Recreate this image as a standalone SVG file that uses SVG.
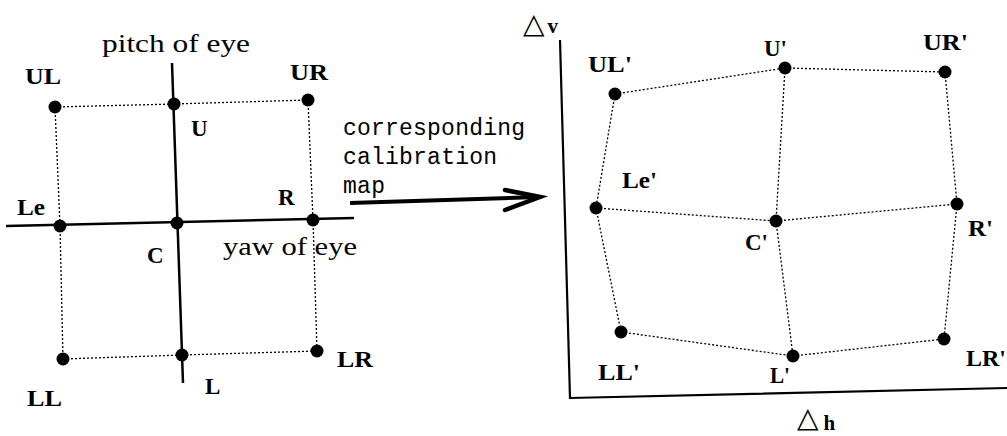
<svg xmlns="http://www.w3.org/2000/svg" width="1007" height="436" viewBox="0 0 1007 436">
<style>
.lb{font-family:"Liberation Serif","Times New Roman",serif;font-weight:bold;font-size:23px;fill:#000}
.tx{font-family:"Liberation Serif","Times New Roman",serif;font-size:26px;fill:#000}
.mono{font-family:"Liberation Mono","Courier New",monospace;font-size:23px;fill:#000}
.dot{fill:#000}
.dl{stroke:#000;stroke-width:1.3;stroke-dasharray:2 2;fill:none}
.sl{stroke:#000;stroke-width:2.5;fill:none}
</style>
<rect width="1007" height="436" fill="#fff"/>
<g id="connectors">
  <line class="dl" x1="55" y1="107" x2="174" y2="104"/>
  <line class="dl" x1="174" y1="104" x2="308" y2="100"/>
  <line class="dl" x1="55" y1="107" x2="60" y2="226"/>
  <line class="dl" x1="60" y1="226" x2="63" y2="359"/>
  <line class="dl" x1="308" y1="100" x2="313" y2="220"/>
  <line class="dl" x1="313" y1="220" x2="317" y2="351"/>
  <line class="dl" x1="63" y1="359" x2="182" y2="355"/>
  <line class="dl" x1="182" y1="355" x2="317" y2="351"/>
  <line class="sl" x1="172" y1="63" x2="183" y2="383"/>
  <line class="sl" x1="6" y1="226" x2="354" y2="218"/>
  <g id="arrow">
    <line x1="350" y1="203" x2="538" y2="197" stroke="#000" stroke-width="4"/>
    <polyline points="505,190 540,197 505,210" fill="none" stroke="#000" stroke-width="4.5" stroke-linecap="round" stroke-linejoin="miter"/>
  </g>
  <polyline points="560,40 570,398 1007,388" fill="none" stroke="#000" stroke-width="2.2"/>
  <line class="dl" x1="615" y1="94" x2="785" y2="68"/>
  <line class="dl" x1="785" y1="68" x2="945" y2="72"/>
  <line class="dl" x1="615" y1="94" x2="596" y2="208"/>
  <line class="dl" x1="596" y1="208" x2="621" y2="332"/>
  <line class="dl" x1="945" y1="72" x2="957" y2="204"/>
  <line class="dl" x1="957" y1="204" x2="944" y2="339"/>
  <line class="dl" x1="596" y1="208" x2="776" y2="221"/>
  <line class="dl" x1="776" y1="221" x2="957" y2="204"/>
  <line class="dl" x1="785" y1="68" x2="776" y2="221"/>
  <line class="dl" x1="776" y1="221" x2="793" y2="356"/>
  <line class="dl" x1="621" y1="332" x2="793" y2="356"/>
  <line class="dl" x1="793" y1="356" x2="944" y2="339"/>
</g>
<g id="labels-left">
  <text class="tx" x="102" y="52" textLength="148" lengthAdjust="spacingAndGlyphs">pitch of eye</text>
  <text class="tx" x="223" y="255" textLength="134" lengthAdjust="spacingAndGlyphs">yaw of eye</text>
</g>
<g id="mid-label">
  <text class="mono" x="343" y="135" textLength="182" lengthAdjust="spacing">corresponding</text>
  <text class="mono" x="343" y="164" textLength="154" lengthAdjust="spacing">calibration</text>
  <text class="mono" x="343" y="193" textLength="42" lengthAdjust="spacing">map</text>
</g>
<g id="node-UL"><circle class="dot" cx="55" cy="107" r="6.5"/><text class="lb" x="25" y="84" textLength="36" lengthAdjust="spacingAndGlyphs">UL</text></g>
<g id="node-U"><circle class="dot" cx="174" cy="104" r="6.5"/><text class="lb" x="191" y="136">U</text></g>
<g id="node-UR"><circle class="dot" cx="308" cy="100" r="6.5"/><text class="lb" x="290" y="80" textLength="38" lengthAdjust="spacingAndGlyphs">UR</text></g>
<g id="node-Le"><circle class="dot" cx="60" cy="226" r="6.5"/><text class="lb" x="17" y="215" textLength="28" lengthAdjust="spacingAndGlyphs">Le</text></g>
<g id="node-C"><circle class="dot" cx="177" cy="223" r="6.5"/><text class="lb" x="147" y="263">C</text></g>
<g id="node-R"><circle class="dot" cx="313" cy="220" r="6.5"/><text class="lb" x="278" y="205">R</text></g>
<g id="node-LL"><circle class="dot" cx="63" cy="359" r="6.5"/><text class="lb" x="27" y="406" textLength="35" lengthAdjust="spacingAndGlyphs">LL</text></g>
<g id="node-L"><circle class="dot" cx="182" cy="355" r="6.5"/><text class="lb" x="205" y="394">L</text></g>
<g id="node-LR"><circle class="dot" cx="317" cy="351" r="6.5"/><text class="lb" x="337" y="367" textLength="36" lengthAdjust="spacingAndGlyphs">LR</text></g>

<g id="node-ULp"><circle class="dot" cx="615" cy="94" r="6.5"/><text class="lb" x="588" y="72" textLength="44" lengthAdjust="spacingAndGlyphs">UL'</text></g>
<g id="node-Up"><circle class="dot" cx="785" cy="68" r="6.5"/><text class="lb" x="764" y="56" textLength="23" lengthAdjust="spacingAndGlyphs">U'</text></g>
<g id="node-URp"><circle class="dot" cx="945" cy="72" r="6.5"/><text class="lb" x="923" y="50" textLength="45" lengthAdjust="spacingAndGlyphs">UR'</text></g>
<g id="node-Lep"><circle class="dot" cx="596" cy="208" r="6.5"/><text class="lb" x="622" y="188" textLength="35" lengthAdjust="spacingAndGlyphs">Le'</text></g>
<g id="node-Cp"><circle class="dot" cx="776" cy="221" r="6.5"/><text class="lb" x="745" y="250" textLength="23" lengthAdjust="spacingAndGlyphs">C'</text></g>
<g id="node-Rp"><circle class="dot" cx="957" cy="204" r="6.5"/><text class="lb" x="968" y="236" textLength="25" lengthAdjust="spacingAndGlyphs">R'</text></g>
<g id="node-LLp"><circle class="dot" cx="621" cy="332" r="6.5"/><text class="lb" x="598" y="380" textLength="42" lengthAdjust="spacingAndGlyphs">LL'</text></g>
<g id="node-Lp"><circle class="dot" cx="793" cy="356" r="6.5"/><text class="lb" x="770" y="383" textLength="20" lengthAdjust="spacingAndGlyphs">L'</text></g>
<g id="node-LRp"><circle class="dot" cx="944" cy="339" r="6.5"/><text class="lb" x="966" y="366" textLength="40" lengthAdjust="spacingAndGlyphs">LR'</text></g>

<g id="axis-labels">
  <text x="523" y="33" font-family="'DejaVu Sans',sans-serif" font-size="28" fill="#000">△<tspan font-family="'Liberation Serif',serif" font-weight="bold" font-size="21" dx="3">v</tspan></text>
  <text x="797" y="427" font-family="'DejaVu Sans',sans-serif" font-size="28" fill="#000">△<tspan font-family="'Liberation Serif',serif" font-weight="bold" font-size="21" dx="5" dy="3">h</tspan></text>
</g>
</svg>
